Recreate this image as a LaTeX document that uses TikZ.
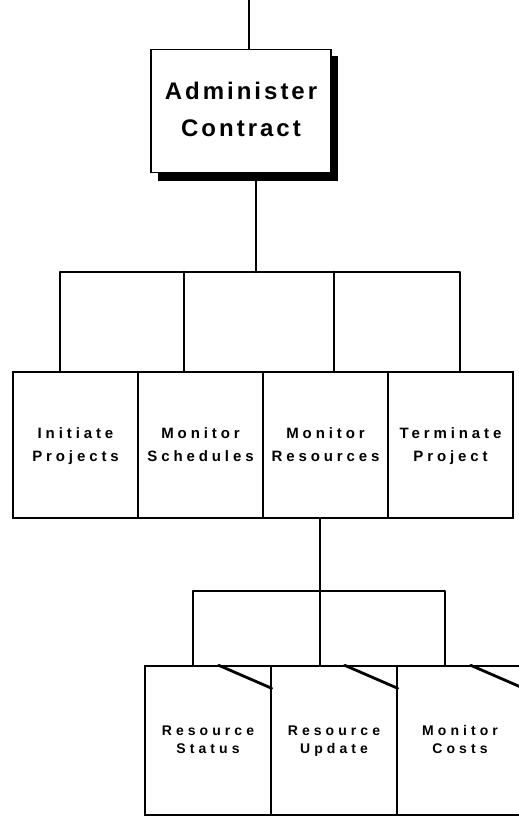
\documentclass[tikz,border=0pt]{standalone}
\usepackage{fontspec}
\newfontfamily\fbig{Liberation Sans}[LetterSpace=12.5]
\newfontfamily\fmid{Liberation Sans}[LetterSpace=26]
\newfontfamily\fsml{Liberation Sans}[LetterSpace=29]
\begin{document}
\begin{tikzpicture}[x=1bp,y=-1bp,
  conn/.style={line width=2.8bp,line cap=round,line join=round},
  bigbox/.style={draw,line width=1.7bp,fill=white,minimum width=180bp,minimum height=123bp,inner sep=0pt,align=center,font=\fbig\bfseries\fontsize{24bp}{37bp}\selectfont},
  midbox/.style={draw,line width=1.4bp,fill=white,minimum width=125bp,minimum height=146bp,inner sep=0pt,align=center,font=\fmid\bfseries\fontsize{15bp}{23bp}\selectfont},
  smlbox/.style={draw,line width=1.4bp,fill=white,minimum width=126bp,minimum height=149bp,inner sep=0pt,align=center,font=\fsml\bfseries\fontsize{14bp}{18bp}\selectfont},
  fold/.style={line width=2.8bp,line cap=round}]
\useasboundingbox (0,0) rectangle (519,818);
% shadow of top box
\fill[black] (158,56) rectangle (338,181);
\node[bigbox] (admin) at (241,111) {Administer\strut\\Contract\strut};
\coordinate (topin) at (249,0);
\draw[conn] (topin) -- (admin.north -| topin);
% level 2 boxes
\node[midbox] (ip) at (75.5,445) {Initiate\strut\\Projects\strut};
\node[midbox] (ms) at (200.5,445) {Monitor\strut\\Schedules\strut};
\node[midbox] (mr) at (325.5,445) {Monitor\strut\\Resources\strut};
\node[midbox] (tp) at (450.5,445) {Terminate\strut\\Project\strut};
% bus 1
\coordinate (b0) at (256,272);
\coordinate (b1) at (60,272);
\coordinate (b2) at (184,272);
\coordinate (b3) at (334,272);
\coordinate (b4) at (460,272);
\draw[conn] (b0 |- 0,181) -- (b0);
\draw[conn] (ip.north -| b1) -- (b1) -- (b4) -- (tp.north -| b4);
\draw[conn] (b2) -- (ms.north -| b2);
\draw[conn] (b3) -- (mr.north -| b3);
% level 3 boxes
\node[smlbox] (rs) at (208,740.5) {Resource\strut\\Status\strut};
\node[smlbox] (ru) at (334,740.5) {Resource\strut\\Update\strut};
\node[smlbox] (mc) at (460,740.5) {Monitor\strut\\Costs\strut};
% bus 2
\coordinate (c0) at (320,591);
\coordinate (c1) at (193,591);
\coordinate (c3) at (445,591);
\draw[conn] (mr.south -| c0) -- (c0) -- (ru.north -| c0);
\draw[conn] (rs.north -| c1) -- (c1) -- (c3) -- (mc.north -| c3);
% folded corners
\foreach \b in {rs,ru,mc}{
  \draw[fold] ([xshift=-53bp]\b.north east) -- ([yshift=-23bp]\b.north east);
}
\end{tikzpicture}
\end{document}
